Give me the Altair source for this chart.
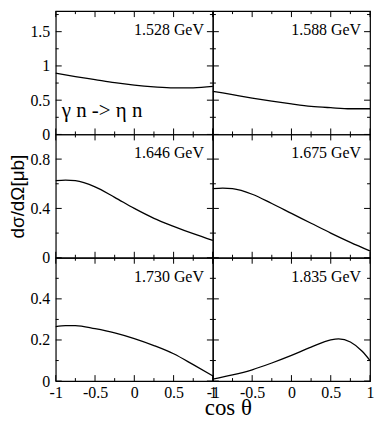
import altair as alt
import pandas as pd

# ---------------- data ----------------
x_major = [-1, -0.5, 0, 0.5, 1]
x_minor = [-0.75, -0.25, 0.25, 0.75]

energies = ["1.528 GeV", "1.588 GeV", "1.646 GeV", "1.675 GeV", "1.730 GeV", "1.835 GeV"]

cos_1528 = [-1, -0.75, -0.5, -0.25, 0, 0.25, 0.5, 0.75, 1]
dsig_1528 = [0.895, 0.845, 0.80, 0.755, 0.72, 0.695, 0.68, 0.68, 0.70]

cos_1588 = [-1, -0.75, -0.5, -0.25, 0, 0.25, 0.5, 0.75, 1]
dsig_1588 = [0.63, 0.58, 0.53, 0.485, 0.445, 0.41, 0.39, 0.375, 0.375]

cos_1646 = [-1, -0.875, -0.75, -0.5, -0.25, 0, 0.25, 0.5, 0.75, 1]
dsig_1646 = [0.625, 0.63, 0.625, 0.575, 0.49, 0.40, 0.32, 0.255, 0.195, 0.14]

cos_1675 = [-1, -0.875, -0.75, -0.5, -0.25, 0, 0.25, 0.5, 0.75, 1]
dsig_1675 = [0.56, 0.565, 0.56, 0.515, 0.44, 0.36, 0.28, 0.20, 0.125, 0.055]

cos_1730 = [-1, -0.875, -0.75, -0.5, -0.25, 0, 0.25, 0.5, 0.75, 1]
dsig_1730 = [0.265, 0.27, 0.27, 0.255, 0.235, 0.207, 0.173, 0.133, 0.08, 0.025]

cos_1835 = [-1, -0.75, -0.5, -0.25, 0, 0.25, 0.5, 0.6, 0.75, 0.9, 1]
dsig_1835 = [0.01, 0.03, 0.055, 0.088, 0.125, 0.165, 0.20, 0.205, 0.19, 0.145, 0.10]

row_domains = [[0, 1.8], [0, 1.0], [0, 0.6]]
row_major = [[0, 0.5, 1, 1.5], [0, 0.4, 0.8], [0, 0.2, 0.4]]
row_minor = [[0.25, 0.75, 1.25, 1.75], [0.2, 0.6], [0.1, 0.3, 0.5]]

reaction = "γ n -> η n"
y_title = "dσ/dΩ[μb]"
x_title = "cos θ"

# ---------------- layout ----------------
W, H = 158, 124
SERIF = "Liberation Serif"
SANS = "Liberation Sans"
MAJ, MIN = 6, 3


def panel(xs, ys, energy, r, c):
    df = pd.DataFrame({"cos": xs, "dsig": ys})
    xsc = alt.Scale(domain=[-1, 1], nice=False, zero=False)
    ysc = alt.Scale(domain=row_domains[r], nice=False, zero=False)
    base = alt.Chart(df)

    if r == 2:
        xa = dict(values=x_major, labelExpr="'' + datum.value", ticks=False,
                  domain=False, grid=False, labelFont=SERIF, labelFontSize=16,
                  labelColor="black", labelPadding=4, labelFlush=False,
                  labelOverlap=False)
        if c == 0:
            xa.update(title=x_title, titleFont=SERIF, titleFontSize=23,
                      titleFontWeight="normal", titleColor="black",
                      titleX=173, titleY=34, titleBaseline="alphabetic",
                      titleAlign="center")
        else:
            xa.update(title=None)
        xaxis = alt.Axis(**xa)
    else:
        xaxis = None

    if c == 0:
        ya = dict(values=row_major[r], labelExpr="'' + datum.value", ticks=False,
                  domain=False, grid=False, labelFont=SERIF, labelFontSize=16,
                  labelColor="black", labelPadding=6, labelFlush=False,
                  labelOverlap=False)
        if r == 1:
            ya.update(title=y_title, titleFont=SANS, titleFontSize=19,
                      titleFontWeight="normal", titleColor="black",
                      titlePadding=2)
        else:
            ya.update(title=None)
        yaxis = alt.Axis(**ya)
    else:
        yaxis = None

    X = lambda: alt.X("cos:Q", scale=xsc, axis=xaxis)
    Y = lambda: alt.Y("dsig:Q", scale=ysc, axis=yaxis)

    line = base.mark_line(color="black", strokeWidth=1.3, interpolate="monotone").encode(
        x=X(), y=Y())
    layers = [line]

    # inward tick marks on all four edges, placed through the scales
    for L, xv, yv in ((MAJ, x_major, row_major[r]), (MIN, x_minor, row_minor[r])):
        tx = alt.Chart(pd.DataFrame({"cos": xv})).mark_rule(color="black", strokeWidth=1)
        layers.append(tx.encode(x=X(), y=alt.value(H), y2=alt.value(H - L)))
        layers.append(tx.encode(x=X(), y=alt.value(0), y2=alt.value(L)))
        ty = alt.Chart(pd.DataFrame({"dsig": yv})).mark_rule(color="black", strokeWidth=1)
        layers.append(ty.encode(y=Y(), x=alt.value(0), x2=alt.value(L)))
        layers.append(ty.encode(y=Y(), x=alt.value(W), x2=alt.value(W - L)))

    label = alt.Chart(pd.DataFrame({"label": [energy]})).mark_text(
        align="right", baseline="alphabetic", font=SERIF, fontSize=16, color="black"
    ).encode(x=alt.value(W - 9), y=alt.value(24), text="label:N")
    layers.append(label)

    if r == 0 and c == 0:
        note = alt.Chart(pd.DataFrame({"label": [reaction]})).mark_text(
            align="left", baseline="alphabetic", font=SERIF, fontSize=21, color="black"
        ).encode(x=alt.value(6), y=alt.value(106), text="label:N")
        layers.append(note)

    return alt.layer(*layers).properties(width=W, height=H)


series = [(cos_1528, dsig_1528), (cos_1588, dsig_1588),
          (cos_1646, dsig_1646), (cos_1675, dsig_1675),
          (cos_1730, dsig_1730), (cos_1835, dsig_1835)]

cells = []
for r in range(3):
    for c in range(2):
        i = 2 * r + c
        cells.append(panel(series[i][0], series[i][1], energies[i], r, c))

chart = alt.concat(*cells, columns=2, spacing=0, bounds="flush").properties(
    padding={"left": 0, "top": 0, "right": -1, "bottom": -1}
).configure_view(stroke="black", strokeWidth=1.2)

chart.save("out.html", embed_options={"renderer": "svg", "actions": False})
